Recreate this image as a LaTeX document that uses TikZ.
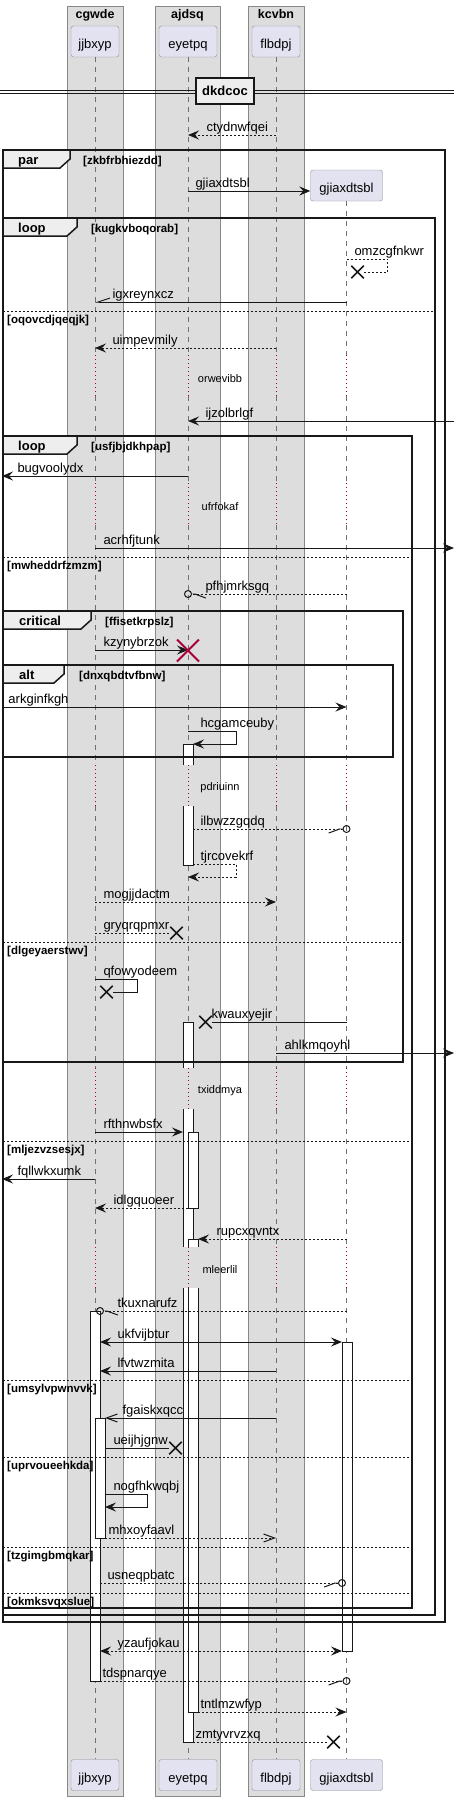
\documentclass[tikz,border=0pt]{standalone}
\usepackage{fontspec}
\setmainfont{Liberation Sans}
\usepackage{tikz}
\usetikzlibrary{positioning, arrows.meta, shapes.misc}
\usepackage{xcolor}
\definecolor{ink}{HTML}{181818}
\definecolor{boxgray}{HTML}{DDDDDD}
\definecolor{boxline}{HTML}{888888}
\definecolor{partfill}{HTML}{E2E2F0}
\definecolor{partline}{HTML}{8C8C9C}
\definecolor{tabfill}{HTML}{EEEEEE}
\definecolor{delayred}{HTML}{A80036}
\definecolor{lifegray}{HTML}{707070}

\begin{document}
\begin{tikzpicture}[
                x=1pt, y=-1pt,
                groupbox/.style={draw=boxline, fill=boxgray},
                boxtitle/.style={anchor=base, inner sep=0pt, font=\bfseries\fontsize{12.5}{14}\selectfont},
                participant/.style={rectangle, draw=partline, fill=partfill, rounded corners=2.5pt, minimum height=31pt, text height=22.5pt, text depth=8.5pt, inner sep=0pt, font=\fontsize{13}{15}\selectfont},
                lifeline/.style={draw=lifegray, line width=0.8pt, dash pattern=on 5pt off 5pt},
                delayline/.style={draw=delayred, line width=0.8pt, dash pattern=on 1pt off 3pt},
                delaytext/.style={anchor=base, inner sep=0pt, font=\fontsize{11}{13}\selectfont},
                actbar/.style={draw=ink, fill=white, line width=1pt},
                groupframe/.style={draw=ink, line width=1.5pt},
                tabshape/.style={draw=ink, fill=tabfill, line width=1.5pt},
                tabtext/.style={anchor=base west, inner sep=0pt, font=\bfseries\fontsize{13}{15}\selectfont},
                guard/.style={anchor=base west, inner sep=0pt, font=\bfseries\fontsize{11.5}{13}\selectfont},
                elseline/.style={draw=ink, line width=1pt, dash pattern=on 2pt off 2pt},
                divider/.style={draw=ink, fill=tabfill, line width=2pt, minimum width=58pt, minimum height=26pt, inner sep=0pt, font=\bfseries\fontsize{13}{15}\selectfont},
                lbl/.style={anchor=base west, inner sep=0pt, font=\fontsize{13}{15}\selectfont},
                msgline/.style={draw=ink, line width=1pt},
                dashedline/.style={msgline, dash pattern=on 2pt off 2pt},
                msg/.style={msgline, -{Stealth[length=11pt, width=9pt, inset=4pt]}},
                reply/.style={dashedline, -{Stealth[length=11pt, width=9pt, inset=4pt]}},
                async/.style={-{Straight Barb[length=11pt, width=8pt]}},
                twoway/.style={{Stealth[length=11pt, width=9pt, inset=4pt]}-{Stealth[length=11pt, width=9pt, inset=4pt]}},
                halfup/.style={-{Straight Barb[right, length=12pt, width=8pt]}},
                lostl/.style={-{Straight Barb[left, length=11pt, width=8pt] Circle[open, length=8pt]}, shorten >=-4pt},
                lostr/.style={-{Straight Barb[right, length=11pt, width=8pt] Circle[open, length=8pt]}, shorten >=-4pt},
                kill/.style={cross out, draw=ink, line width=1.5pt, minimum size=11pt, inner sep=0pt},
                bigkill/.style={cross out, draw=delayred, line width=2pt, minimum size=20pt, inner sep=0pt}
            ]
            \useasboundingbox (0,0) rectangle (460,1801);

            % Boxes round the participants
            \foreach \l/\r/\t in {67/123/cgwde, 155/220/ajdsq, 248/304/kcvbn} {
                \draw[groupbox] (\l,6) rectangle (\r,1796);
                \node[boxtitle] (\t) at ({(\l+\r)/2},19) {\t};
            }

            % Participants
            \node[participant, minimum width=48pt] (jjbxyp) at (95,41.5) {jjbxyp};
            \node[participant, minimum width=58pt] (eyetpq) at (188,41.5) {eyetpq};
            \node[participant, minimum width=48pt] (flbdpj) at (276,41.5) {flbdpj};
            \node[participant, minimum width=72pt] (gjiaxdtsbl) at (346.5,185.5) {gjiaxdtsbl};
            \node[participant, minimum width=48pt] (jjbxyp2) at (95,1775) {jjbxyp};
            \node[participant, minimum width=58pt] (eyetpq2) at (188,1775) {eyetpq};
            \node[participant, minimum width=48pt] (flbdpj2) at (276,1775) {flbdpj};
            \node[participant, minimum width=72pt] (gjiaxdtsbl2) at (346.5,1775) {gjiaxdtsbl};

            % Edges of the picture and of the activation bars
            \coordinate (lft) at (2,0);
            \coordinate (rgt) at (454,0);
            \coordinate (jjR) at (100,0);
            \coordinate (jjRR) at (105,0);
            \coordinate (eyL) at (183,0);
            \coordinate (eyR) at (193,0);
            \coordinate (eyRR) at (198,0);
            \coordinate (gjL) at (342,0);

            % Lifelines, dotted red where a delay cuts them
            \foreach \p/\s in {jjbxyp/57, eyetpq/57, flbdpj/57, gjiaxdtsbl/201} {
                \foreach \a/\b in {\s/355, 396/483, 525/765, 806/1068, 1109/1247, 1288/1759}
                    \draw[lifeline] (\p |- 0,\a) -- (\p |- 0,\b);
                \foreach \a/\b in {355/396, 483/525, 765/806, 1068/1109, 1247/1288}
                    \draw[delayline] (\p |- 0,\a) -- (\p |- 0,\b);
            }

            % Activation bars
            \draw[actbar] (183,765) |- (193,744) -- (193,765);
            \draw[actbar] (183,806) -- (183,865) -| (193,806);
            \draw[actbar] (183,1068) |- (193,1022) -- (193,1068);
            \fill[white] (183,1109) rectangle (193,1247);
            \draw[msgline] (183,1109) -- (183,1247) (193,1109) -- (193,1247);
            \draw[actbar] (183,1288) -- (183,1742) -| (193,1288);
            \draw[actbar] (188,1132) rectangle (198,1208);
            \draw[actbar] (188,1247) |- (198,1239) -- (198,1247);
            \draw[actbar] (188,1288) -- (188,1712) -| (198,1288);
            \draw[actbar] (90,1311) rectangle (100,1681);
            \draw[actbar] (95,1418) rectangle (105,1538);
            \draw[actbar] (342,1342) rectangle (352,1651);

            % Divider
            \draw[msgline] (0,90) -- (454,90) (0,93) -- (454,93);
            \node[divider] (dkdcoc) at (225,91) {dkdcoc};

            % Frames
            \draw[groupframe] (3,150) rectangle (445,1622);
            \draw[tabshape] (3,150) -- (70,150) -- (70,159) -- (60,168) -- (3,168) -- cycle;
            \node[tabtext] (partab) at (18,164.5) {par};
            \node[guard] (zkbfrbhiezdd) at (83,164) {[zkbfrbhiezdd]};

            \draw[groupframe] (3,218) rectangle (435,1615);
            \draw[tabshape] (3,218) -- (77,218) -- (77,227) -- (67,236) -- (3,236) -- cycle;
            \node[tabtext] (looptab1) at (18,232.5) {loop};
            \node[guard] (kugkvboqorab) at (91,232) {[kugkvboqorab]};
            \draw[elseline] (3,311) -- (435,311);
            \node[guard] (oqovcdjqeqjk) at (7,323) {[oqovcdjqeqjk]};

            \draw[groupframe] (3,436) rectangle (412,1608);
            \draw[tabshape] (3,436) -- (77,436) -- (77,445) -- (67,454) -- (3,454) -- cycle;
            \node[tabtext] (looptab2) at (18,450.5) {loop};
            \node[guard] (usfjbjdkhpap) at (91,450) {[usfjbjdkhpap]};
            \foreach \y/\g in {557/mwheddrfzmzm, 1141/mljezvzsesjx, 1380/umsylvpwnvvk, 1457/uprvoueehkda, 1547/tzgimgbmqkar, 1593/okmksvqxslue} {
                \draw[elseline] (3,\y) -- (412,\y);
                \node[guard] (\g) at (7,\y+12) {[\g]};
            }

            \draw[groupframe] (3,611) rectangle (403,1062);
            \draw[tabshape] (3,611) -- (91,611) -- (91,620) -- (81,629) -- (3,629) -- cycle;
            \node[tabtext] (criticaltab) at (19,625.5) {critical};
            \node[guard] (ffisetkrpslz) at (105,625) {[ffisetkrpslz]};
            \draw[elseline] (3,942) -- (403,942);
            \node[guard] (dlgeyaerstwv) at (7,954) {[dlgeyaerstwv]};

            \draw[groupframe] (3,665) rectangle (393,757);
            \draw[tabshape] (3,665) -- (64,665) -- (64,674) -- (54,683) -- (3,683) -- cycle;
            \node[tabtext] (alttab) at (19,679.5) {alt};
            \node[guard] (dnxqbdtvfbnw) at (79,679) {[dnxqbdtvfbnw]};

            % Delays
            \node[delaytext] (orwevibb) at (220,382) {orwevibb};
            \node[delaytext] (ufrfokaf) at (220,510) {ufrfokaf};
            \node[delaytext] (pdriuinn) at (220,790) {pdriuinn};
            \node[delaytext] (txiddmya) at (220,1093) {txiddmya};
            \node[delaytext] (mleerlil) at (220,1273) {mleerlil};

            % Destroy marks
            \node[kill] (kill1) at (357.5,272) {};
            \node[kill] (kill3) at (176.5,933) {};
            \node[kill] (kill4) at (106.5,992) {};
            \node[kill] (kill5) at (205.5,1022) {};
            \node[kill] (kill6) at (175.5,1448) {};
            \node[kill] (kill7) at (333.5,1742) {};

            % Messages
            \draw[reply] (flbdpj |- 0,135) -- (eyetpq |- 0,135) node[lbl] (ctydnwfqei) at (206,131) {ctydnwfqei};
            \draw[msg] (eyetpq |- 0,191) -- (gjiaxdtsbl.west |- 0,191) node[lbl] (create) at (195,187) {gjiaxdtsbl};
            \draw[dashedline] (gjiaxdtsbl |- 0,259) -- ++(41,0) |- (kill1) node[lbl] (omzcgfnkwr) at (354,255) {omzcgfnkwr};
            \draw[msg, halfup] (gjiaxdtsbl |- 0,302) -- (jjbxyp |- 0,302) node[lbl] (igxreynxcz) at (112,298) {igxreynxcz};
            \draw[reply] (flbdpj |- 0,348) -- (jjbxyp |- 0,348) node[lbl] (uimpevmily) at (112,344) {uimpevmily};
            \draw[msg] (rgt |- 0,421) -- (eyetpq |- 0,421) node[lbl] (ijzolbrlgf) at (205,417) {ijzolbrlgf};
            \draw[msg] (eyetpq |- 0,476) -- (lft |- 0,476) node[lbl] (bugvoolydx) at (17,472) {bugvoolydx};
            \draw[msg] (jjbxyp |- 0,548) -- (rgt |- 0,548) node[lbl] (acrhfjtunk) at (103,544) {acrhfjtunk};
            \draw[reply, lostl] (gjiaxdtsbl |- 0,594) -- (eyetpq |- 0,594) node[lbl] (pfhjmrksgq) at (205,590) {pfhjmrksgq};
            \draw[msg] (jjbxyp |- 0,650) -- (eyetpq |- 0,650) node[lbl] (kzynybrzok) at (103,646) {kzynybrzok};
            \node[bigkill] (kill2) at (eyetpq |- 0,650.5) {};
            \draw[msg] (lft |- 0,707) -- (gjiaxdtsbl |- 0,707) node[lbl] (arkginfkgh) at (8,703) {arkginfkgh};
            \draw[msg] (eyetpq |- 0,731) -- ++(48,0) |- (eyR |- 0,744) node[lbl] (hcgamceuby) at (200,727) {hcgamceuby};
            \draw[reply, lostr] (eyR |- 0,829) -- (gjiaxdtsbl |- 0,829) node[lbl] (ilbwzzgqdq) at (200,825) {ilbwzzgqdq};
            \draw[reply] (eyR |- 0,864) -- ++(43,0) |- (eyetpq |- 0,877) node[lbl] (tjrcovekrf) at (200,860) {tjrcovekrf};
            \draw[reply] (jjbxyp |- 0,902) -- (flbdpj |- 0,902) node[lbl] (mogjjdactm) at (103,898) {mogjjdactm};
            \draw[dashedline] (jjbxyp |- 0,933) -- (kill3) node[lbl] (gryqrqpmxr) at (103,929) {gryqrqpmxr};
            \draw[msgline] (jjbxyp |- 0,979) -- ++(42,0) |- (kill4) node[lbl] (qfowyodeem) at (103,975) {qfowyodeem};
            \draw[msgline] (gjiaxdtsbl |- 0,1022) -- (kill5) node[lbl] (kwauxyejir) at (211,1018) {kwauxyejir};
            \draw[msg] (flbdpj |- 0,1053) -- (rgt |- 0,1053) node[lbl] (ahlkmqoyhl) at (284,1049) {ahlkmqoyhl};
            \draw[msg] (jjbxyp |- 0,1132) -- (eyL |- 0,1132) node[lbl] (rfthnwbsfx) at (103,1128) {rfthnwbsfx};
            \draw[msg] (jjbxyp |- 0,1179) -- (lft |- 0,1179) node[lbl] (fqllwkxumk) at (17,1175) {fqllwkxumk};
            \draw[reply] (eyetpq |- 0,1208) -- (jjbxyp |- 0,1208) node[lbl] (idlgquoeer) at (113,1204) {idlgquoeer};
            \draw[reply] (gjiaxdtsbl |- 0,1239) -- (eyRR |- 0,1239) node[lbl] (rupcxqvntx) at (216,1235) {rupcxqvntx};
            \draw[reply, lostl] (gjiaxdtsbl |- 0,1311) -- (jjR |- 0,1311) node[lbl] (tkuxnarufz) at (117,1307) {tkuxnarufz};
            \draw[msg, twoway] (jjR |- 0,1342) -- (gjL |- 0,1342) node[lbl] (ukfvijbtur) at (117,1338) {ukfvijbtur};
            \draw[msg] (flbdpj |- 0,1371) -- (jjR |- 0,1371) node[lbl] (lfvtwzmita) at (117,1367) {lfvtwzmita};
            \draw[msg, async] (flbdpj |- 0,1418) -- (jjRR |- 0,1418) node[lbl] (fgaiskxqcc) at (122,1414) {fgaiskxqcc};
            \draw[msgline] (jjRR |- 0,1448) -- (kill6) node[lbl] (ueijhjgnw) at (113,1444) {ueijhjgnw};
            \draw[msg] (jjRR |- 0,1494) -- ++(42,0) |- (jjRR |- 0,1507) node[lbl] (nogfhkwqbj) at (113,1490) {nogfhkwqbj};
            \draw[reply, async] (jjRR |- 0,1538) -- (flbdpj |- 0,1538) node[lbl] (mhxoyfaavl) at (108,1534) {mhxoyfaavl};
            \draw[reply, lostr] (jjR |- 0,1583) -- (gjL |- 0,1583) node[lbl] (usneqpbatc) at (107,1579) {usneqpbatc};
            \draw[reply, twoway] (jjR |- 0,1651) -- (gjL |- 0,1651) node[lbl] (yzaufjokau) at (117,1647) {yzaufjokau};
            \draw[reply, lostr] (jjR |- 0,1681) -- (gjiaxdtsbl |- 0,1681) node[lbl] (tdspnarqye) at (102,1677) {tdspnarqye};
            \draw[reply] (eyRR |- 0,1712) -- (gjiaxdtsbl |- 0,1712) node[lbl] (tntlmzwfyp) at (200,1708) {tntlmzwfyp};
            \draw[dashedline] (eyR |- 0,1742) -- (kill7) node[lbl] (zmtyvrvzxq) at (195,1738) {zmtyvrvzxq};
        \end{tikzpicture}
\end{document}
